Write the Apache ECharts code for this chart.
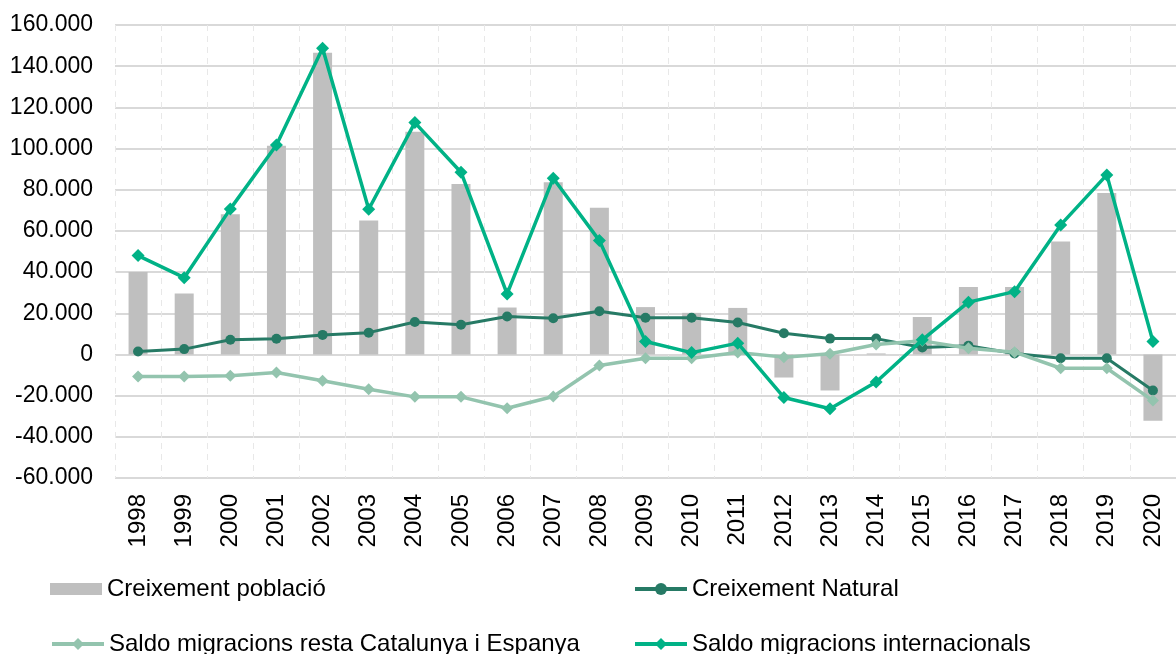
<!DOCTYPE html>
<html>
<head>
<meta charset="utf-8">
<script src="https://cdn.jsdelivr.net/npm/echarts@6/dist/echarts.min.js"></script>
<style>
  html, body { margin: 0; padding: 0; background: #ffffff; }
  #chart { width: 1176px; height: 654px; }
</style>
</head>
<body>
<div id="chart"></div>
<script>
// Years on the category axis
const years = ['1998','1999','2000','2001','2002','2003','2004','2005','2006','2007','2008',
  '2009','2010','2011','2012','2013','2014','2015','2016','2017','2018','2019','2020'];

// Annual population growth (bars)
const creixementPoblacio = [40000, 29600, 68100, 101400, 146500, 65000, 108200, 82800, 22800, 83600, 71300,
  23000, 20200, 22600, -11200, -17500, 500, 18200, 32800, 32800, 54800, 78400, -32200];

// Natural growth (births minus deaths)
const creixementNatural = [1400, 2600, 7100, 7600, 9500, 10600, 15800, 14400, 18400, 17600, 21000,
  17800, 17800, 15500, 10300, 7700, 7700, 3400, 4200, 500, -1800, -1800, -17500];

// Net migration with the rest of Catalonia and Spain
const saldoResta = [-10700, -10700, -10400, -8800, -12800, -16900, -20600, -20600, -26100, -20400, -5400,
  -1800, -1800, 1000, -1300, 300, 4800, 6600, 3000, 1100, -6700, -6700, -22400];

// Net international migration
const saldoInternacional = [48000, 37300, 70700, 101700, 148700, 70500, 112600, 88500, 29400, 85600, 55300,
  6300, 900, 5500, -20900, -26400, -13400, 7100, 25400, 30500, 62900, 87200, 6300];

// Value axis range and step
const yMin = -60000, yMax = 160000, yStep = 20000;

const FONT = 'Liberation Sans, Arial, sans-serif';

function fmtThousands(v) {
  if (v === 0) return '0';
  const neg = v < 0;
  const s = String(Math.abs(v)).replace(/\B(?=(\d{3})+(?!\d))/g, '.');
  return (neg ? '-' : '') + s;
}

const chart = echarts.init(document.getElementById('chart'), null, { renderer: 'canvas' });

const legendText = { fontFamily: FONT, fontSize: 24, color: '#000000', lineHeight: 24 };

// One legend block per entry, laid out as a 2x2 grid under the plot
function legendAt(name, left, top, isBar) {
  const cfg = {
    left: left, top: top, padding: 0,
    itemWidth: 52, itemHeight: isBar ? 12 : 15,
    textStyle: legendText,
    data: [isBar ? { name: name, icon: 'rect' } : { name: name }]
  };
  if (!isBar) cfg.lineStyle = { width: 4 };
  return cfg;
}

chart.setOption({
  animation: false,
  backgroundColor: '#ffffff',
  grid: { left: 115, right: -10, top: 25, bottom: 176, containLabel: false },
  legend: [
    legendAt('Creixement població', 50, 577, true),
    legendAt('Creixement Natural', 633, 577, false),
    legendAt('Saldo migracions resta Catalunya i Espanya', 50, 632, false),
    legendAt('Saldo migracions internacionals', 633, 632, false)
  ],
  xAxis: {
    type: 'category',
    data: years,
    boundaryGap: true,
    axisLine: { show: false, onZero: false },
    axisTick: { show: false },
    axisLabel: {
      rotate: 90, margin: 16, interval: 0,
      fontFamily: FONT, fontSize: 24, color: '#000000'
    },
    splitLine: { show: true, interval: 0, lineStyle: { color: '#e8e8e8', type: [6, 5], width: 1 } }
  },
  yAxis: {
    type: 'value',
    min: yMin, max: yMax, interval: yStep,
    axisLine: { show: false },
    axisTick: { show: false },
    axisLabel: {
      margin: 22, fontFamily: FONT, fontSize: 23, color: '#000000',
      formatter: fmtThousands
    },
    splitLine: { show: true, lineStyle: { color: '#d9d9d9', width: 2 } }
  },
  series: [
    {
      name: 'Creixement població',
      type: 'bar',
      data: creixementPoblacio,
      barWidth: 19,
      itemStyle: { color: '#bfbfbf' },
      z: 1
    },
    {
      name: 'Creixement Natural',
      type: 'line',
      data: creixementNatural,
      symbol: 'circle', symbolSize: 10,
      lineStyle: { color: '#267a65', width: 3 },
      itemStyle: { color: '#267a65' },
      z: 2
    },
    {
      name: 'Saldo migracions resta Catalunya i Espanya',
      type: 'line',
      data: saldoResta,
      symbol: 'diamond', symbolSize: 12,
      lineStyle: { color: '#93c4ae', width: 3.5 },
      itemStyle: { color: '#93c4ae' },
      z: 3
    },
    {
      name: 'Saldo migracions internacionals',
      type: 'line',
      data: saldoInternacional,
      symbol: 'diamond', symbolSize: 13,
      lineStyle: { color: '#00b286', width: 3.5 },
      itemStyle: { color: '#00b286' },
      z: 4
    }
  ]
});
</script>
</body>
</html>
